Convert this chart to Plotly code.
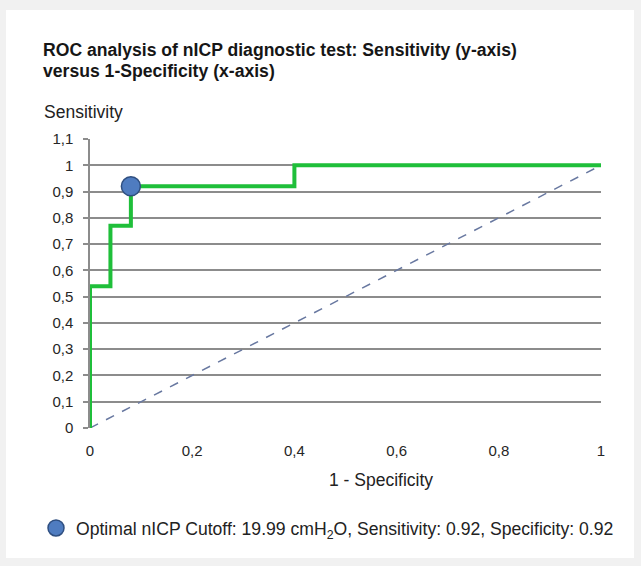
import plotly.graph_objects as go

# ROC step curve (1 - specificity, sensitivity)
roc_fpr = [0, 0, 0.04, 0.04, 0.08, 0.08, 0.40, 0.40, 1.0]
roc_tpr = [0, 0.54, 0.54, 0.77, 0.77, 0.92, 0.92, 1.0, 1.0]
diag_x = [0, 1]
diag_y = [0, 1]
opt_x = [0.08]
opt_y = [0.92]
y_ticks = [0, 0.1, 0.2, 0.3, 0.4, 0.5, 0.6, 0.7, 0.8, 0.9, 1.0, 1.1]
x_ticks = [0, 0.2, 0.4, 0.6, 0.8, 1.0]
title_lines = ["ROC analysis of nICP diagnostic test: Sensitivity (y-axis)",
               "versus 1-Specificity (x-axis)"]

W, H = 641, 566
L, R, T, B = 90, 601, 139, 428
FONT = "Liberation Sans, Arial, sans-serif"


def px(x):
    return (x - L) / (R - L)


def py(y):
    return (B - y) / (B - T)


fig = go.Figure()
fig.add_trace(go.Scatter(x=diag_x, y=diag_y, mode="lines",
                         line=dict(color="#6878a0", width=1.5, dash="dash"),
                         showlegend=False, hoverinfo="skip"))
fig.add_trace(go.Scatter(x=roc_fpr, y=roc_tpr, mode="lines",
                         line=dict(color="#1fbf3a", width=4),
                         showlegend=False))
fig.add_trace(go.Scatter(x=opt_x, y=opt_y, mode="markers",
                         marker=dict(size=19, color="#4f7cc0",
                                     line=dict(color="#2f4f80", width=1.5)),
                         name="Optimal nICP Cutoff: 19.99 cmH<sub>2</sub>O, Sensitivity: 0.92, Specificity: 0.92",
                         showlegend=True, cliponaxis=False))

fig.add_shape(type="rect", xref="paper", yref="paper",
              x0=px(6), x1=px(634), y0=py(558), y1=py(10),
              fillcolor="white", line=dict(width=0), layer="below")

for line_text, yc in zip(title_lines, [50, 71]):
    fig.add_annotation(xref="paper", yref="paper", x=px(41), y=py(yc),
                       xanchor="left", yanchor="middle", align="left", showarrow=False,
                       text="<b>" + line_text + "</b>",
                       font=dict(size=17.6, color="#161616", family=FONT))
fig.add_annotation(xref="paper", yref="paper", x=px(42), y=py(112),
                   xanchor="left", yanchor="middle", showarrow=False,
                   text="Sensitivity",
                   font=dict(size=17.5, color="#222222", family=FONT))
fig.add_annotation(xref="paper", yref="paper", x=px(381), y=py(480),
                   xanchor="center", yanchor="middle", showarrow=False,
                   text="1 - Specificity",
                   font=dict(size=17.5, color="#222222", family=FONT))

fig.update_layout(
    width=W, height=H,
    margin=dict(l=L, r=W - R, t=T, b=H - B),
    paper_bgcolor="#f1f1f1", plot_bgcolor="white",
    separators=", ",
    font=dict(family=FONT, color="#222222", size=14),
    xaxis=dict(range=[0, 1], tickvals=x_ticks, showgrid=False, zeroline=False,
               showline=False, ticks="", ticklabelstandoff=12,
               tickfont=dict(size=15, color="#262626")),
    yaxis=dict(range=[0, 1.1], tickvals=y_ticks, showgrid=True, gridcolor="#8c8c8c",
               gridwidth=1.5, zeroline=False, showline=True, linecolor="#8c8c8c",
               linewidth=1.5, ticks="outside", ticklen=5, tickcolor="#8c8c8c",
               tickwidth=1.5, ticklabelstandoff=7,
               tickfont=dict(size=15, color="#262626")),
    legend=dict(xref="container", yref="container", x=36 / W, y=1 - 528 / H,
                xanchor="left", yanchor="middle", orientation="h",
                font=dict(size=17.6, color="#222222"), bgcolor="rgba(0,0,0,0)",
                itemsizing="trace"),
    showlegend=True,
)

fig.write_html("out.html", config={"displayModeBar": False},
               post_script="document.body.style.margin='0px';document.body.style.background='#f1f1f1';")
